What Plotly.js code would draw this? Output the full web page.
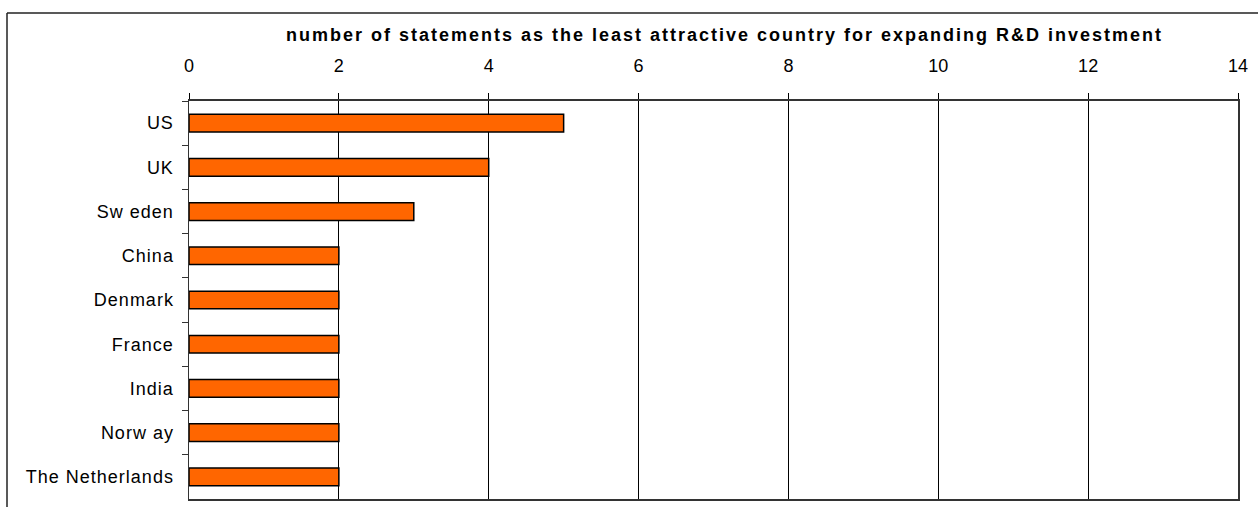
<!DOCTYPE html>
<html>
<head>
<meta charset="utf-8">
<script src="https://cdn.plot.ly/plotly-3.0.1.min.js"></script>
<style>
html,body{margin:0;padding:0;background:#fff;}
#chart{width:1258px;height:507px;}
.gtitle{letter-spacing:2px;}
.ytick text{letter-spacing:1px;}
</style>
</head>
<body>
<div id="chart"></div>
<script>
const countries = ["US","UK","Sw eden","China","Denmark","France","India","Norw ay","The Netherlands"];
const statements = [5,4,3,2,2,2,2,2,2];
const xTickValues = [0,2,4,6,8,10,12,14];
const chartTitle = "number of statements as the least attractive country for expanding R&D investment";

const trace = {
  type: "bar",
  orientation: "h",
  y: countries,
  x: statements,
  marker: {color: "#FF6600", line: {color: "#000000", width: 1.5}},
  hoverinfo: "x+y"
};

const layout = {
  width: 1258,
  height: 507,
  margin: {l: 189, r: 20, t: 101, b: 8, pad: 0},
  paper_bgcolor: "#ffffff",
  plot_bgcolor: "#ffffff",
  showlegend: false,
  bargap: 0.6,
  font: {family: "Liberation Sans, Arial, sans-serif", size: 18, color: "#000"},
  title: {
    text: "<b>" + chartTitle + "</b>",
    font: {family: "Liberation Sans, Arial, sans-serif", size: 18, color: "#000"},
    x: 724.5/1258, xanchor: "center", xref: "container",
    y: 1 - 35/507, yanchor: "middle", yref: "container"
  },
  xaxis: {
    side: "top",
    range: [0, 14],
    tickvals: xTickValues,
    ticktext: xTickValues.map(String),
    showgrid: true, gridcolor: "#000", gridwidth: 1,
    zeroline: false,
    showline: true, mirror: true, linecolor: "#333", linewidth: 2,
    ticks: "outside", ticklen: 6, tickcolor: "#000",
    ticklabelstandoff: 14,
    tickfont: {size: 18},
    fixedrange: true
  },
  yaxis: {
    type: "category",
    autorange: "reversed",
    showgrid: false,
    zeroline: false,
    showline: true, mirror: true, linecolor: "#333", linewidth: 1.5,
    ticks: "outside", tickson: "boundaries", ticklen: 6, tickcolor: "#333",
    ticklabelstandoff: 10,
    tickfont: {size: 18},
    fixedrange: true
  },
  shapes: [
    {type: "line", xref: "paper", yref: "paper",
     x0: (7-189)/1049, x1: 1.05, y0: 1 + (101-13)/398, y1: 1 + (101-13)/398,
     line: {color: "#222", width: 1.5}},
    {type: "line", xref: "paper", yref: "paper",
     x0: (7-189)/1049, x1: (7-189)/1049, y0: -0.05, y1: 1 + (101-13)/398,
     line: {color: "#222", width: 1.5}}
  ]
};

Plotly.newPlot("chart", [trace], layout, {displayModeBar: false, staticPlot: true});
</script>
</body>
</html>
